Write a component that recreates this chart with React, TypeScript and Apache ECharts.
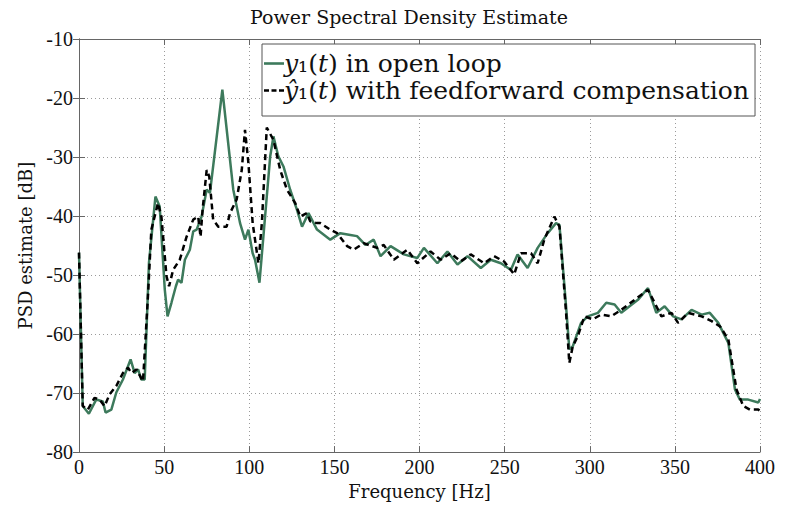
import React, { useEffect, useRef } from "react";
import * as echarts from "echarts";

const title = "Power Spectral Density Estimate";
const xName = "Frequency [Hz]";
const yName = "PSD estimate [dB]";
const nameOpen = "y\u2081(t) in open loop";
const nameFF = "\u0177\u2081(t) with feedforward compensation";

const freqOpen = [0, 2.2, 5.8, 10.1, 14, 15.6, 19, 21.9, 25.8, 30.3, 32.7, 34.7, 36.6, 38.6, 41.1, 44.9, 47.4, 50.4, 52, 54.3, 56.9, 58.2, 60.2, 62.2, 65.1, 67.1, 69.1, 72, 75, 76.9, 84.2, 90.6, 94.6, 97.5, 99.5, 102, 103.4, 106, 112.3, 114.2, 117.1, 120.1, 124, 128, 131, 134.8, 139.8, 147.6, 153.5, 159.4, 163.3, 168.2, 173.1, 177.1, 183, 190.8, 198.7, 202.6, 210.5, 216.4, 222.3, 228.2, 236, 241.9, 247.8, 253.7, 257.6, 263.5, 269.4, 275.3, 280.2, 282.2, 286.1, 288, 290, 294.9, 298.8, 304.8, 309.7, 314.6, 318.5, 323.4, 328.3, 334.2, 339.1, 344, 349, 353.9, 359.8, 365.7, 370.5, 375.5, 381.4, 385.3, 388.2, 393.1, 399, 400];
const psdOpen = [-46.2, -72.2, -73.5, -71.1, -71.4, -73.3, -72.8, -69.9, -67.7, -64.3, -66.6, -66, -67.7, -67.7, -47.9, -36.7, -38.4, -52.5, -57, -54.7, -51.9, -50.8, -51.3, -47.4, -45.7, -42.6, -42.3, -40.1, -35.5, -36.1, -18.6, -35.5, -41.2, -44, -42.3, -46.3, -47.4, -51.3, -29.9, -26.5, -29.9, -31.6, -35.5, -38.9, -41.8, -39.5, -42.3, -44, -42.9, -43.2, -43.4, -44.9, -44, -46.8, -45.1, -46.5, -47.1, -45.4, -48, -46, -48.2, -46.8, -48.8, -47.4, -48, -49.1, -46.5, -48.8, -45.4, -42.9, -41.2, -41.5, -55.3, -62.6, -62.1, -58.1, -57, -56.4, -54.7, -55, -56.4, -55.3, -54.2, -52.2, -56.4, -55.3, -57, -57.5, -55.9, -56.7, -56.4, -58.1, -61.5, -69.4, -71.1, -71.1, -71.6, -71];

const freqFF = [0, 2.2, 5.2, 9.1, 12.1, 15, 18, 21.9, 25.8, 28.8, 30.8, 33.7, 37.6, 40.5, 42.5, 46.4, 48.4, 51.4, 52.9, 55.3, 59.2, 63.2, 67.1, 70, 71.4, 72.6, 75, 76.5, 78.8, 81.8, 86.7, 88.7, 92.6, 95.6, 97.5, 99.5, 102, 105.4, 107.4, 110.3, 114.2, 118.2, 122.1, 127, 130, 133.9, 135.8, 139.8, 141.7, 147.6, 151.6, 157.5, 161.3, 167.2, 175.1, 179, 184.9, 192.8, 198.7, 206.5, 212.4, 218.3, 224.2, 230.1, 237.9, 243.8, 249.7, 255.6, 259.6, 265.5, 269.4, 273.3, 279.2, 282.2, 286.1, 288, 290, 292.9, 296.9, 301.8, 306.7, 312.6, 318.5, 326.4, 334.2, 338.1, 342.1, 348, 351.9, 357.8, 365.7, 371.6, 376.5, 381.4, 386.2, 390.2, 394.1, 399, 400];
const psdFF = [-46.2, -72.2, -72.8, -70.8, -71.1, -72.2, -70.2, -68.8, -66.6, -65.7, -66.6, -66, -68, -53.6, -42.3, -37.8, -40.1, -50.2, -51.9, -49.1, -47.4, -43.5, -40.6, -40.1, -43.5, -38.9, -32.2, -33.3, -40.6, -41.8, -41.8, -39.5, -37.2, -32.2, -25.4, -31, -41.2, -48, -41.2, -25, -27.1, -32.2, -35.5, -37.8, -40.1, -39.5, -40.9, -41.2, -41.2, -42.3, -42.9, -45.1, -45.7, -44.6, -45.4, -44.9, -47.4, -45.7, -48, -46, -47.4, -46.3, -47.7, -46.5, -48, -46.8, -47.7, -49.9, -46.3, -46.3, -48, -44, -40.1, -41.8, -56.4, -64.9, -62.1, -60.4, -57, -57.5, -56.7, -57, -55.9, -54.2, -52.5, -54.7, -57, -56.4, -58.1, -56.4, -57, -57.8, -58.7, -60.9, -69.4, -72.2, -72.8, -72.8, -73];

const TICK_FONT = "Liberation Serif";
const TEXT_FONT = "DejaVu Serif";

export default function App() {
  const ref = useRef<HTMLDivElement>(null);
  useEffect(() => {
    if (!ref.current) return;
    const chart = echarts.init(ref.current, undefined, { renderer: "svg" });
    const zip = (xs: number[], ys: number[]) => xs.map((x, i) => [x, ys[i]]);
    const frameAxisLine = { show: true, lineStyle: { color: "#666", width: 1 } };
    const tick = { show: true, inside: true, length: 6, lineStyle: { color: "#666" } };
    const grid = { show: true, lineStyle: { color: "#9a9a9a", type: [1, 3], width: 1 } };
    const legendRich = {
      i: { fontFamily: TEXT_FONT, fontSize: 25, fontStyle: "italic", color: "#111", lineHeight: 27 },
      n: { fontFamily: TEXT_FONT, fontSize: 25, color: "#111", lineHeight: 27 },
    };
    chart.setOption({
      animation: false,
      backgroundColor: "#fff",
      title: {
        text: title,
        left: 404,
        top: 2,
        textAlign: "center",
        textStyle: { fontFamily: TEXT_FONT, fontSize: 19, fontWeight: "normal", color: "#111" },
      },
      grid: { left: 79, top: 39, right: 34, bottom: 52 },
      legend: {
        orient: "vertical",
        left: 262,
        top: 44,
        padding: [6, 6, 12, 2],
        itemGap: 0,
        itemWidth: 20,
        itemHeight: 27,
        borderColor: "#555",
        borderWidth: 1,
        backgroundColor: "#fff",
        textStyle: { fontFamily: TEXT_FONT, fontSize: 25, color: "#111", lineHeight: 27, padding: [0, 0, 0, -5], rich: legendRich },
        formatter: (name: string) =>
          name === nameOpen
            ? "{i|y}{n|\u2081(}{i|t}{n|) in open loop}"
            : "{i|\u0177}{n|\u2081(}{i|t}{n|) with feedforward compensation}",
        data: [
          { name: nameOpen, icon: "path://M0,12.2 L20,12.2 L20,14.8 L0,14.8 Z" },
          { name: nameFF, icon: "path://M0,12.2 L5,12.2 L5,14.8 L0,14.8 Z M7.5,12.2 L12.5,12.2 L12.5,14.8 L7.5,14.8 Z M15,12.2 L20,12.2 L20,14.8 L15,14.8 Z" },
        ],
      },
      xAxis: [
        {
          type: "value",
          min: 0,
          max: 400,
          interval: 50,
          name: xName,
          nameLocation: "middle",
          nameGap: 27,
          nameTextStyle: { fontFamily: TEXT_FONT, fontSize: 18, color: "#111" },
          axisLine: frameAxisLine,
          axisTick: tick,
          axisLabel: { fontFamily: TICK_FONT, fontSize: 20, color: "#111", margin: 5 },
          splitLine: grid,
        },
        {
          type: "value",
          position: "top",
          min: 0,
          max: 400,
          interval: 50,
          axisLine: frameAxisLine,
          axisTick: tick,
          axisLabel: { show: false },
          splitLine: { show: false },
        },
      ],
      yAxis: [
        {
          type: "value",
          min: -80,
          max: -10,
          interval: 10,
          name: yName,
          nameLocation: "middle",
          nameGap: 45,
          nameTextStyle: { fontFamily: TEXT_FONT, fontSize: 18, color: "#111" },
          axisLine: frameAxisLine,
          axisTick: tick,
          axisLabel: { fontFamily: TICK_FONT, fontSize: 20, color: "#111", margin: 6 },
          splitLine: grid,
        },
        {
          type: "value",
          position: "right",
          min: -80,
          max: -10,
          interval: 10,
          axisLine: frameAxisLine,
          axisTick: tick,
          axisLabel: { show: false },
          splitLine: { show: false },
        },
      ],
      series: [
        {
          name: nameOpen,
          type: "line",
          data: zip(freqOpen, psdOpen),
          showSymbol: false,
          symbol: "none",
          lineStyle: { color: "#3d7a5c", width: 2.5 },
          itemStyle: { color: "#3d7a5c" },
          z: 2,
        },
        {
          name: nameFF,
          type: "line",
          data: zip(freqFF, psdFF),
          showSymbol: false,
          symbol: "none",
          lineStyle: { color: "#000", width: 2.5, type: [6, 4] },
          itemStyle: { color: "#000" },
          z: 3,
        },
      ],
    });
    return () => chart.dispose();
  }, []);
  return <div ref={ref} style={{ position: "fixed", left: 0, top: 0, width: 794, height: 505 }} />;
}
